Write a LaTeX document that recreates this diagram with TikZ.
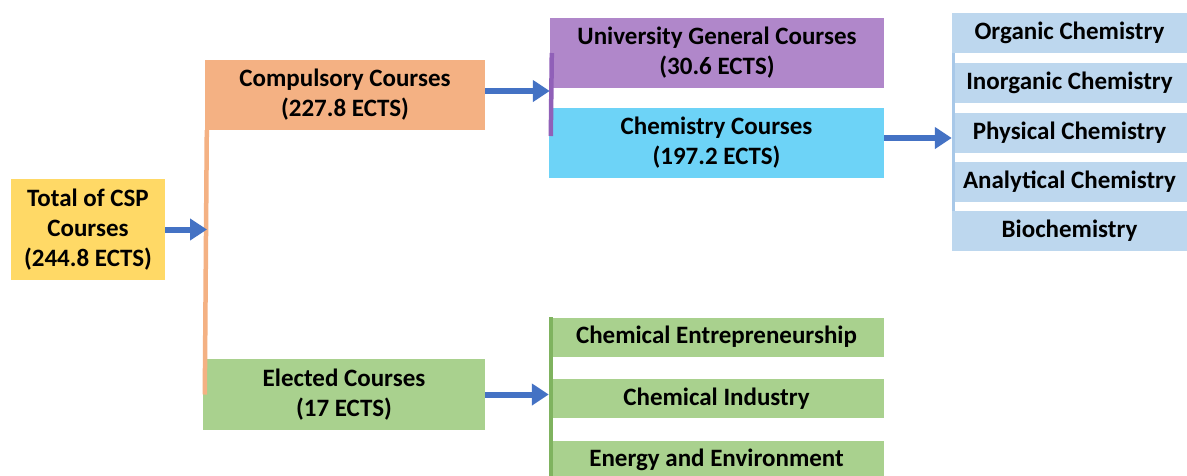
\documentclass[tikz,border=0pt]{standalone}
\usepackage{fontspec}
\setmainfont{Carlito}
\usetikzlibrary{arrows.meta}

\definecolor{totfill}{HTML}{FFD966}
\definecolor{compfill}{HTML}{F4B183}
\definecolor{elecfill}{HTML}{A9D18E}
\definecolor{univfill}{HTML}{B087CA}
\definecolor{univbar}{HTML}{9060B8}
\definecolor{chemfill}{HTML}{6DD3F7}
\definecolor{subfill}{HTML}{BDD7EE}
\definecolor{subbar}{HTML}{A8C8E8}
\definecolor{elecbar}{HTML}{7FB35F}
\definecolor{arrblue}{HTML}{4472C4}

\begin{document}
\begin{tikzpicture}[x=1pt,y=-1pt,
    box/.style={rectangle, inner sep=0pt, align=center,
      font=\fontsize{25}{30}\selectfont\bfseries},
    subbox/.style={box, fill=subfill, minimum width=235pt, minimum height=40pt},
    kidbox/.style={box, fill=elecfill, minimum width=335pt, minimum height=39pt},
    arr/.style={draw=arrblue, line width=6pt,
      -{Triangle[length=17pt,width=21pt]}},
    bar/.style={line width=4.5pt}]
  \clip (0,0) rectangle (1187,475);

  % draw main boxes
  \node[box, fill=totfill, minimum width=154pt, minimum height=101pt]
    (total) at (88,229.5) {Total of CSP\\Courses\\(244.8 ECTS)};
  \node[box, fill=compfill, minimum width=280pt, minimum height=70pt]
    (comp) at (345,95) {Compulsory Courses\\(227.8 ECTS)};
  \node[box, fill=elecfill, minimum width=282pt, minimum height=71pt]
    (elec) at (344,394.5) {Elected Courses\\(17 ECTS)};
  \node[box, fill=univfill, minimum width=334pt, minimum height=70pt]
    (univ) at (717,53) {University General Courses\\(30.6 ECTS)};
  \node[box, fill=chemfill, minimum width=335pt, minimum height=70pt]
    (chem) at (716.5,143) {Chemistry Courses\\(197.2 ECTS)};

  % draw chemistry branches
  \foreach \name/\y/\txt in {org/33/Organic Chemistry,
      inorg/83/Inorganic Chemistry, phys/133/Physical Chemistry,
      anal/182/Analytical Chemistry, bio/231/Biochemistry}
    \node[subbox] (\name) at (1069.5,\y) {\txt};

  % draw elected branches
  \foreach \name/\y/\txt in {entr/337/Chemical Entrepreneurship,
      ind/398.5/Chemical Industry, env/460/Energy and Environment}
    \node[kidbox] (\name) at (716.5,\y) {\txt};

  % draw vertical bars
  \draw[bar, compfill] ([xshift=2pt]comp.south west) -- ([xshift=2pt]elec.west);
  \draw[bar, univbar] ([xshift=2pt]univ.west) -- ([xshift=2pt,yshift=7pt]chem.west);
  \draw[bar, subbar, line width=3pt] ([xshift=2pt,yshift=-20pt]org.west)
    -- ([xshift=2pt,yshift=20pt]bio.west);
  \draw[bar, elecbar] ([xshift=2pt]entr.north west) -- ([xshift=2pt]env.south west);

  % draw arrows
  \coordinate (trunk) at (207,229.5);
  \draw[arr] (total) -- (trunk);
  \draw[arr] ([yshift=4pt]comp.east) -- ([yshift=4pt]comp.east -| univ.west);
  \draw[arr] ([yshift=5pt]chem.east) -- ([yshift=5pt]chem.east -| phys.west);
  \draw[arr] (elec.east) -- (elec.east -| ind.west);
\end{tikzpicture}
\end{document}
